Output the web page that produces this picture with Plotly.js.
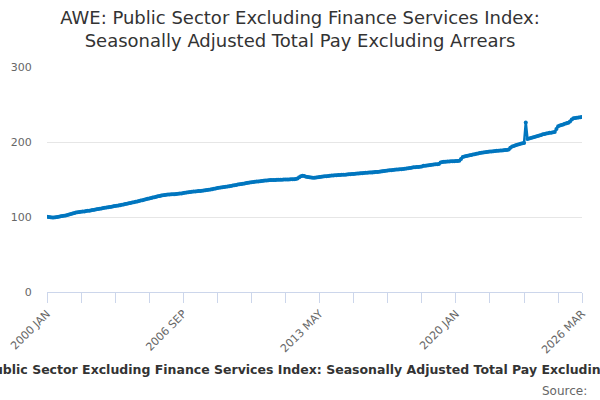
<!DOCTYPE html>
<html lang="en">
<head>
    <meta charset="UTF-8">
    <title>AWE: Public Sector Excluding Finance Services Index</title>
    <script src="https://cdn.plot.ly/plotly-3.0.1.min.js"></script>
    <style>
        body { margin: 0; background: #fff; }
        #chart { width: 600px; height: 400px; }
    </style>
</head>
<body>
<div id="chart"></div>
<script>
    // Monthly series, 2000 JAN to 2026 MAR
    var startYear = 2000;
    var monthNames = ['JAN', 'FEB', 'MAR', 'APR', 'MAY', 'JUN', 'JUL', 'AUG', 'SEP', 'OCT', 'NOV', 'DEC'];

    var indexValues = [
        100.3, 100.0, 99.6, 99.4, 99.5, 99.8, 100.1, 100.4, 100.9, 101.3, 101.6, 102.0,   // 2000
        102.6, 103.3, 104.0, 104.7, 105.4, 105.9, 106.3, 106.6, 106.9, 107.2, 107.5, 107.9, // 2001
        108.3, 108.5, 108.9, 109.3, 109.7, 110.2, 110.6, 111.0, 111.4, 111.9, 112.3, 112.7, // 2002
        113.0, 113.4, 113.8, 114.2, 114.6, 115.0, 115.4, 115.8, 116.3, 116.8, 117.3, 117.8, // 2003
        118.3, 118.8, 119.3, 119.8, 120.3, 120.8, 121.3, 121.9, 122.5, 123.1, 123.7, 124.3, // 2004
        124.8, 125.4, 125.9, 126.5, 127.0, 127.6, 128.1, 128.6, 129.0, 129.4, 129.7, 129.9, // 2005
        130.1, 130.2, 130.4, 130.5, 130.7, 131.0, 131.2, 131.5, 131.9, 132.3, 132.7, 133.0, // 2006
        133.3, 133.6, 133.9, 134.1, 134.3, 134.6, 134.8, 135.1, 135.4, 135.7, 136.0, 136.3, // 2007
        136.7, 137.1, 137.6, 138.1, 138.6, 139.1, 139.5, 139.8, 140.1, 140.4, 140.7, 141.1, // 2008
        141.5, 141.9, 142.3, 142.8, 143.2, 143.6, 144.0, 144.4, 144.8, 145.2, 145.6, 146.0, // 2009
        146.3, 146.6, 146.9, 147.2, 147.5, 147.8, 148.1, 148.3, 148.6, 148.8, 149.0, 149.2, // 2010
        149.3, 149.4, 149.5, 149.6, 149.6, 149.7, 149.8, 149.9, 149.9, 150.0, 150.1, 150.2, // 2011
        150.2, 150.3, 150.6, 151.5, 153.0, 154.4, 154.9, 154.6, 153.8, 153.2, 152.9, 152.6, // 2012
        152.4, 152.5, 152.8, 153.1, 153.4, 153.7, 154.0, 154.2, 154.5, 154.7, 155.0, 155.2, // 2013
        155.4, 155.6, 155.7, 155.9, 156.0, 156.2, 156.3, 156.5, 156.7, 156.9, 157.1, 157.3, // 2014
        157.5, 157.7, 157.9, 158.1, 158.3, 158.5, 158.7, 158.9, 159.1, 159.2, 159.4, 159.5, // 2015
        159.7, 159.9, 160.1, 160.4, 160.7, 161.0, 161.3, 161.6, 161.9, 162.2, 162.5, 162.8, // 2016
        163.0, 163.2, 163.4, 163.6, 163.8, 164.0, 164.3, 164.6, 165.0, 165.4, 165.8, 166.2, // 2017
        166.4, 166.6, 166.8, 167.0, 167.2, 168.2, 168.5, 168.8, 169.1, 169.4, 169.7, 170.0, // 2018
        170.2, 170.4, 170.7, 172.8, 173.4, 173.6, 173.8, 174.0, 174.1, 174.3, 174.4, 174.5, // 2019
        174.6, 174.7, 174.9, 177.5, 180.0, 180.6, 181.2, 181.8, 182.3, 182.8, 183.2, 183.6, // 2020
        184.3, 184.8, 185.2, 185.6, 186.0, 186.3, 186.6, 186.9, 187.2, 187.5, 187.8, 188.0, // 2021
        188.2, 188.4, 188.6, 188.8, 189.0, 189.2, 189.4, 190.0, 192.5, 194.0, 194.7, 195.6, // 2022
        196.3, 197.0, 197.6, 198.2, 198.8, 226.0, 204.0, 204.6, 205.3, 206.0, 206.7, 207.4, // 2023
        208.1, 208.8, 209.5, 210.2, 210.8, 211.3, 211.8, 212.2, 212.5, 212.9, 213.5, 217.5, // 2024
        221.0, 222.0, 222.8, 223.5, 224.2, 224.9, 225.8, 227.5, 230.0, 231.6, 232.0, 232.4, // 2025
        232.8, 233.1, 233.4                                                                 // 2026
    ];

    var yTicks = [0, 100, 200, 300];

    // category labels like "2000 JAN"
    var monthLabels = indexValues.map(function (v, i) {
        return (startYear + Math.floor(i / 12)) + ' ' + monthNames[i % 12];
    });

    // tick every 20 months, labelled every 80, plus the last month
    var tickVals = [], tickText = [];
    for (var i = 0; i < monthLabels.length; i += 20) {
        tickVals.push(monthLabels[i]);
        tickText.push(i % 80 === 0 ? monthLabels[i] : '');
    }
    tickVals.push(monthLabels[monthLabels.length - 1]);
    tickText.push(monthLabels[monthLabels.length - 1]);

    var titleText = 'AWE: Public Sector Excluding Finance Services Index: Seasonally Adjusted Total Pay Excluding Arrears';

    var trace = {
        type: 'scatter',
        mode: 'lines+markers',
        x: monthLabels,
        y: indexValues,
        line: { color: '#0076bf', width: 2.5 },
        marker: { color: '#0076bf', size: 4 },
        hoverinfo: 'x+y'
    };

    var layout = {
        width: 600,
        height: 400,
        margin: { l: 47, r: 18, t: 67, b: 108 },
        paper_bgcolor: '#ffffff',
        plot_bgcolor: '#ffffff',
        showlegend: false,
        font: { family: 'DejaVu Sans, sans-serif', color: '#666666', size: 11 },
        title: {
            text: 'AWE: Public Sector Excluding Finance Services Index:<br>Seasonally Adjusted Total Pay Excluding Arrears',
            font: { family: 'DejaVu Sans, sans-serif', size: 18, color: '#333333' },
            x: 0.5,
            xanchor: 'center',
            yref: 'container',
            y: 0.94,
            yanchor: 'top'
        },
        xaxis: {
            type: 'category',
            range: [0, monthLabels.length - 1],
            tickmode: 'array',
            tickvals: tickVals,
            ticktext: tickText,
            tickangle: -45,
            ticks: 'outside',
            ticklen: 10,
            tickcolor: '#ccd6eb',
            showline: true,
            linecolor: '#ccd6eb',
            linewidth: 1,
            showgrid: false,
            zeroline: false,
            tickfont: { size: 11, color: '#666666' }
        },
        yaxis: {
            range: [0, 300],
            tickmode: 'array',
            tickvals: yTicks,
            ticks: 'outside',
            ticklen: 12,
            tickcolor: 'rgba(0,0,0,0)',
            showgrid: true,
            gridcolor: '#e6e6e6',
            zeroline: false,
            showline: false,
            tickfont: { size: 11, color: '#666666' }
        },
        annotations: [
            {
                text: '<b>' + titleText + '</b>',
                xref: 'paper', yref: 'paper',
                x: 0.483, y: -0.345,
                xanchor: 'center', yanchor: 'middle',
                showarrow: false,
                font: { family: 'DejaVu Sans, sans-serif', size: 12.5, color: '#333333' }
            },
            {
                text: 'Source:',
                xref: 'paper', yref: 'paper',
                x: 1.013, y: -0.44,
                xanchor: 'right', yanchor: 'middle',
                showarrow: false,
                font: { family: 'DejaVu Sans, sans-serif', size: 12, color: '#666666' }
            }
        ]
    };

    Plotly.newPlot('chart', [trace], layout, { displayModeBar: false, staticPlot: true });
</script>
</body>
</html>
